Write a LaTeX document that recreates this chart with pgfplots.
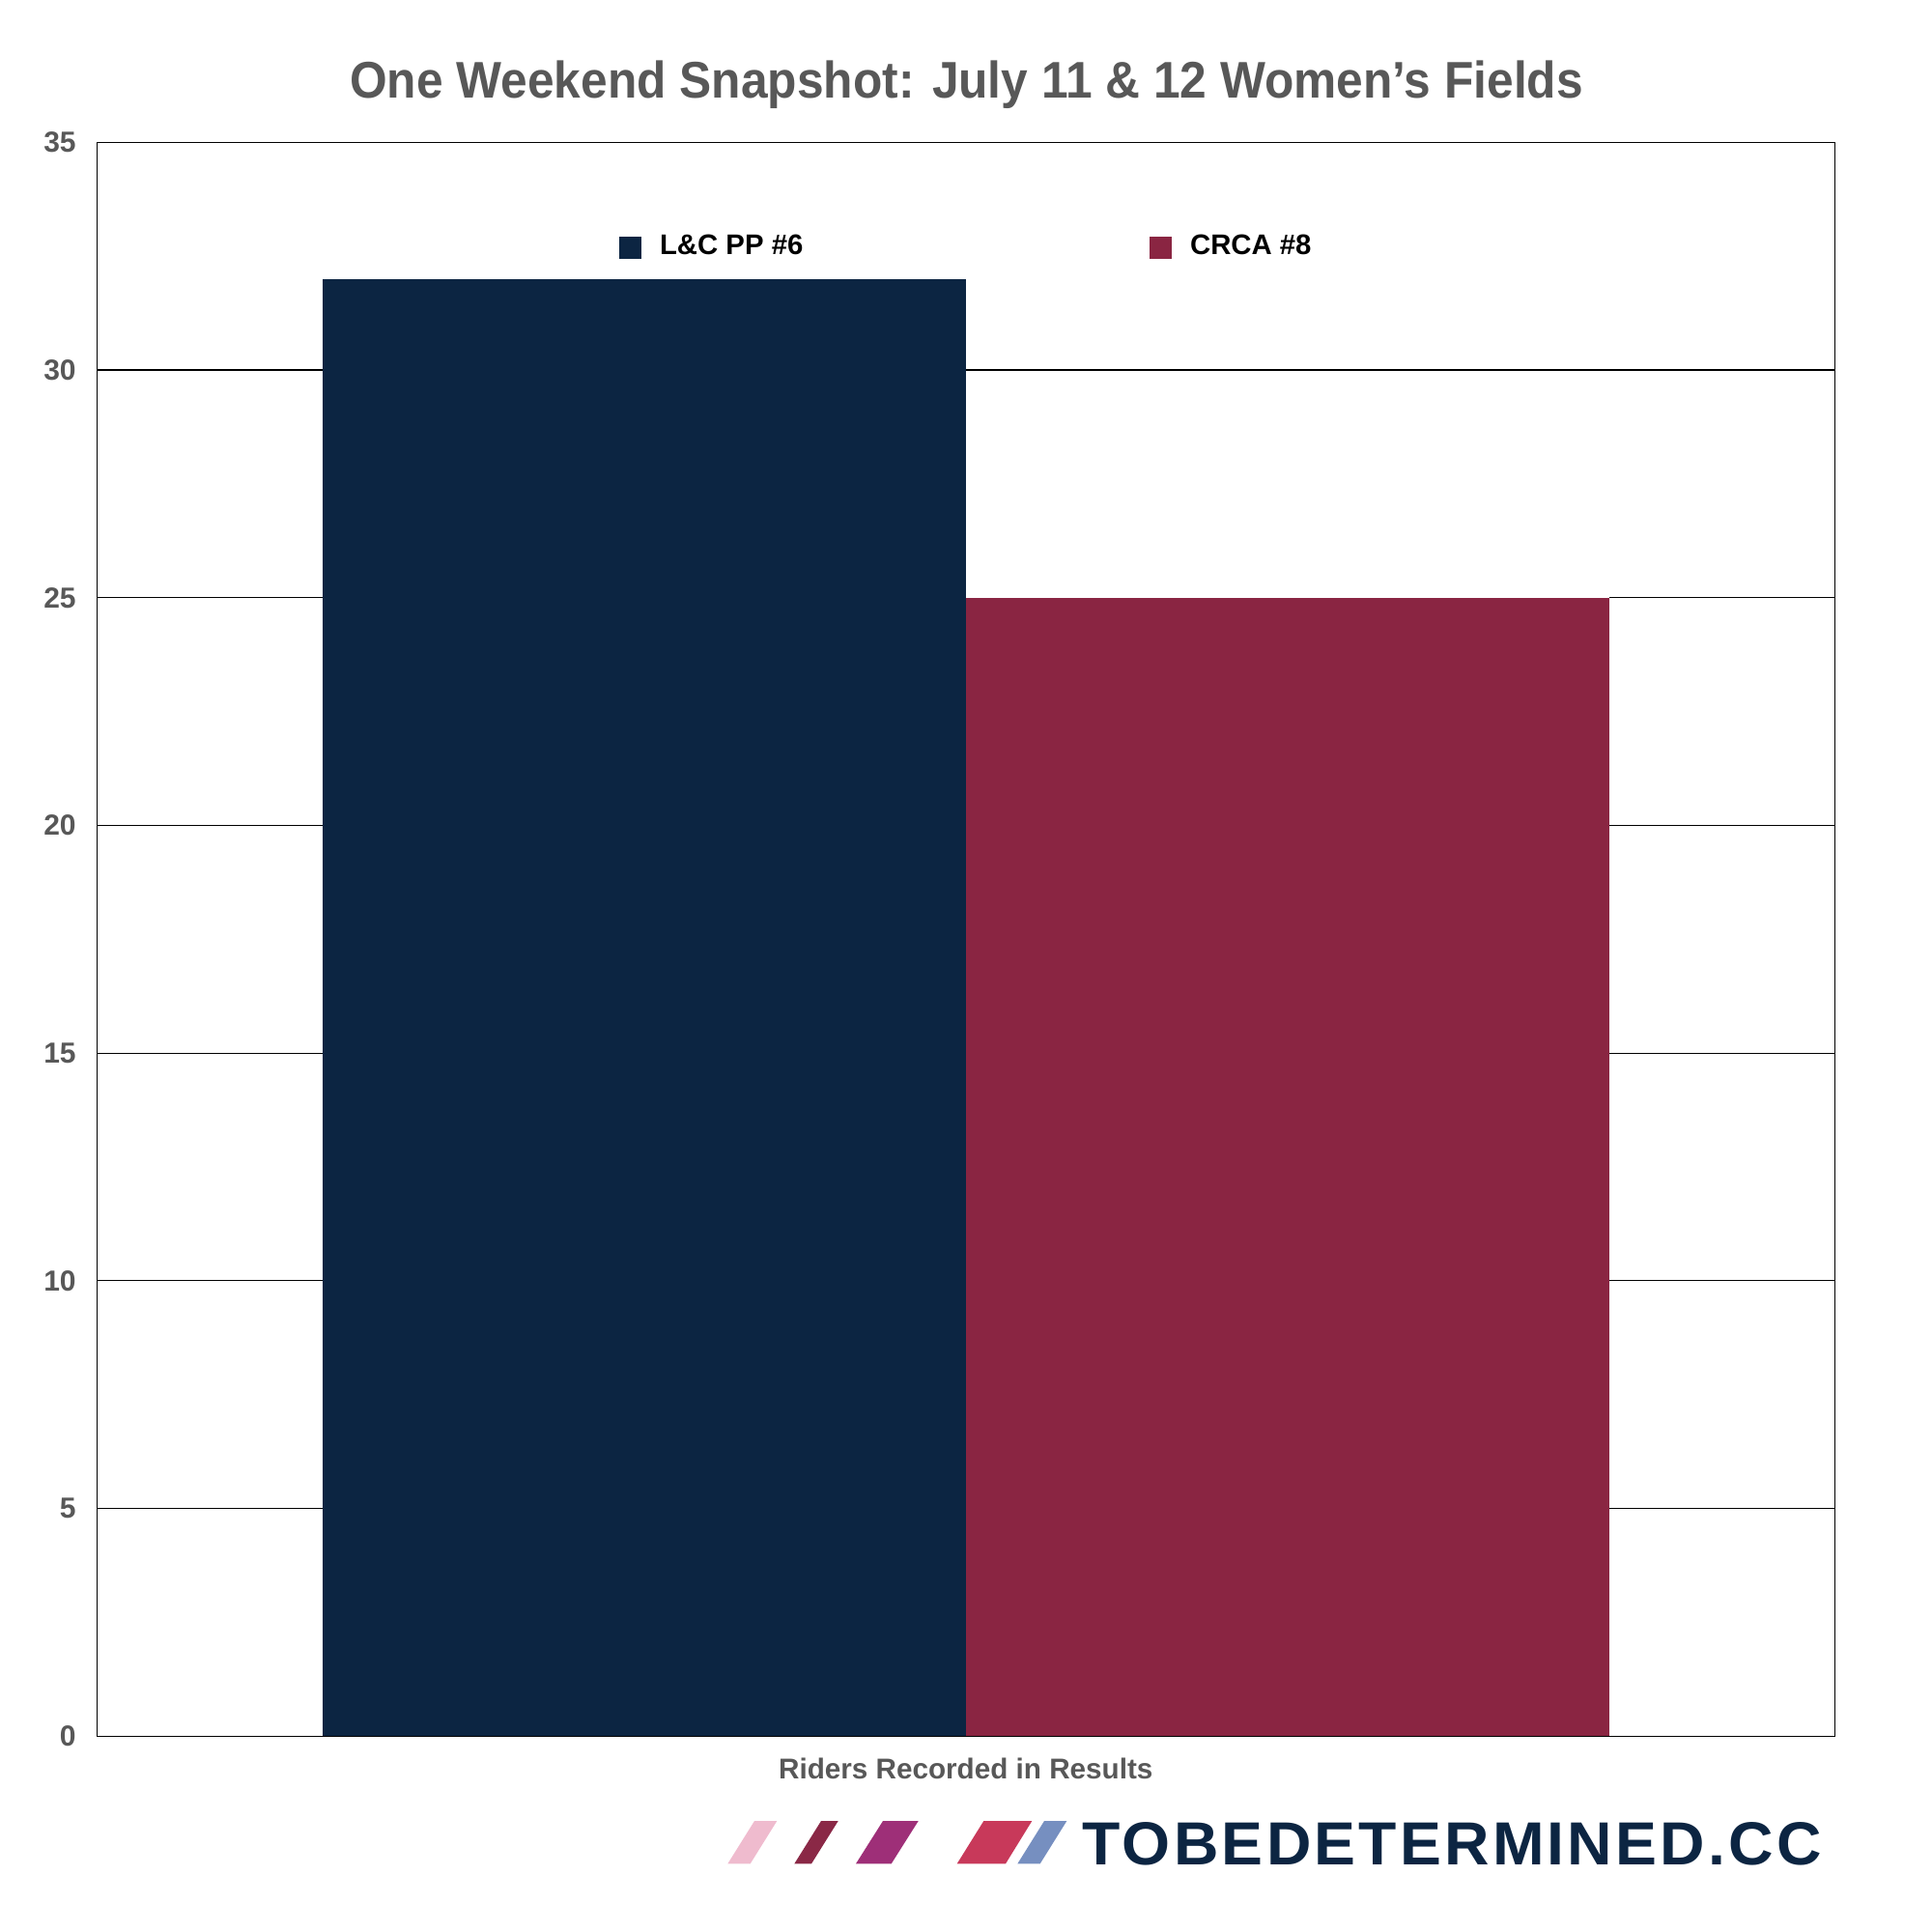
\documentclass[border=0pt]{standalone}
\usepackage{fontspec}
\setmainfont{Liberation Sans}
\usepackage{graphicx}
\usepackage{pgfplots}
\pgfplotsset{compat=1.18}
\definecolor{navy}{RGB}{12,37,66}
\definecolor{wine}{RGB}{138,37,66}
\definecolor{tickgray}{RGB}{88,88,88}
\definecolor{lpink}{RGB}{239,187,206}
\definecolor{lmaroon}{RGB}{138,40,70}
\definecolor{lpurple}{RGB}{158,47,120}
\definecolor{lred}{RGB}{200,57,90}
\definecolor{lblue}{RGB}{118,143,192}
\pgfplotsset{
  navylegend/.style={legend image code/.code={\fill[navy] (0pt,-3.45pt) rectangle (6.9pt,3.45pt); \path (12.6pt,0pt);}},
  winelegend/.style={legend image code/.code={\fill[wine] (0pt,-3.45pt) rectangle (6.9pt,3.45pt); \path (12.6pt,0pt);}},
  gridline/.style={black, line width=0.35pt, forget plot, mark=none},
}
\begin{document}
\begin{tikzpicture}
\begin{axis}[
  at={(30.09pt,-539.19pt)}, anchor=south west,
  scale only axis, width=539.7pt, height=495pt,
  xmin=-1, xmax=1, ymin=0, ymax=35,
  xtick={0}, xticklabels={Riders Recorded in Results},
  ytick={0,5,10,15,20,25,30,35},
  major tick length=0pt,
  axis line style={black, line width=0.45pt},
  /pgf/number format/assume math mode=true,
  yticklabel style={font=\fontsize{9}{10}\selectfont\bfseries, text=tickgray, inner sep=0pt, anchor=east, xshift=-6.3pt},
  xticklabel style={font=\fontsize{8.9}{10}\selectfont\bfseries, text=tickgray, inner sep=0pt, anchor=north, yshift=-6.5pt},
  legend columns=2,
  legend style={draw=none, fill=none, inner sep=0pt, outer sep=0pt,
    at={(0.3006,0.9340)}, anchor=west,
    column sep=0pt,
    /tikz/every even column/.style={column sep=0pt},
    /tikz/every odd column/.style={column sep=0pt},
    nodes={inner sep=0pt, outer sep=0pt, text=black, font=\fontsize{8.8}{10}\selectfont\bfseries}},
]
% horizontal grid lines (the parts that the bars do not hide)
\addplot[gridline] coordinates {(-1,5) (-0.7404,5)};
\addplot[gridline] coordinates {(0.7404,5) (1,5)};
\addplot[gridline] coordinates {(-1,10) (-0.7404,10)};
\addplot[gridline] coordinates {(0.7404,10) (1,10)};
\addplot[gridline] coordinates {(-1,15) (-0.7404,15)};
\addplot[gridline] coordinates {(0.7404,15) (1,15)};
\addplot[gridline] coordinates {(-1,20) (-0.7404,20)};
\addplot[gridline] coordinates {(0.7404,20) (1,20)};
\addplot[gridline] coordinates {(-1,25) (-0.7404,25)};
\addplot[gridline] coordinates {(0.7404,25) (1,25)};
\addplot[gridline] coordinates {(-1,30) (-0.7404,30)};
\addplot[gridline] coordinates {(0,30) (1,30)};
% bars
\addplot[ybar, bar width=0.7404, bar shift=0, fill=navy, draw=none, navylegend] coordinates {(-0.3702,32)};
\addlegendentry{\makebox[152.1pt][l]{L\&C PP \#6}}
\addplot[ybar, bar width=0.7404, bar shift=0, fill=wine, draw=none, winelegend] coordinates {(0.3702,25)};
\addlegendentry{CRCA \#8}
\end{axis}
\node[anchor=base, text=tickgray, inner sep=0pt] at (300.15pt,-30.3pt) {\resizebox{383pt}{\height}{\fontsize{16}{18}\selectfont\bfseries One Weekend Snapshot: July 11 \& 12 Women’s Fields}};
\begin{scope}[x=0.3pt, y=-0.3pt]
\fill[lpink]   (753.3,1929.3) -- (776.7,1929.3) -- (804.3,1885) -- (781,1885) -- cycle;
\fill[lmaroon] (822.3,1929.3) -- (840,1929.3) -- (867.7,1885) -- (850,1885) -- cycle;
\fill[lpurple] (886,1929.3) -- (922.7,1929.3) -- (950.7,1885) -- (914,1885) -- cycle;
\fill[lred]    (990.7,1929.3) -- (1041,1929.3) -- (1068.3,1885) -- (1018.3,1885) -- cycle;
\fill[lblue]   (1053.3,1929.3) -- (1076.7,1929.3) -- (1104.3,1885) -- (1081,1885) -- cycle;
\end{scope}
\node[anchor=base west, inner sep=0pt, text=navy] at (336pt,-579pt) {\resizebox{229.5pt}{\height}{\fontsize{18.9}{20}\selectfont\bfseries\addfontfeature{LetterSpace=5}TOBEDETERMINED.CC}};
\path (0pt,0pt) (600pt,-600pt);
\end{tikzpicture}
\end{document}
